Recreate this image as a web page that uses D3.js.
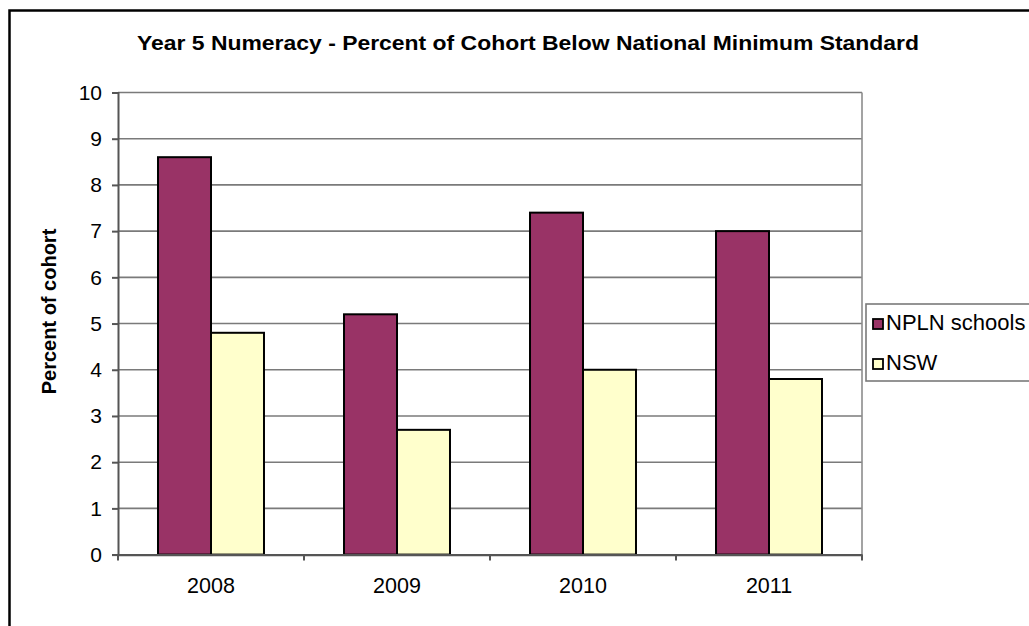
<!DOCTYPE html>
<html>
<head>
<meta charset="utf-8">
<script src="https://cdn.jsdelivr.net/npm/d3@7"></script>
<style>
  html, body { margin: 0; padding: 0; background: #ffffff; }
  svg { display: block; font-family: "Liberation Sans", Arial, sans-serif; }
</style>
</head>
<body>
<svg id="chart" width="1029" height="626"></svg>
<script>
const categories = ["2008", "2009", "2010", "2011"];
const seriesNames = ["NPLN schools", "NSW"];
const nplnValues = [8.6, 5.2, 7.4, 7.0];
const nswValues = [4.8, 2.7, 4.0, 3.8];
const yTicks = [0, 1, 2, 3, 4, 5, 6, 7, 8, 9, 10];
const titleText = "Year 5 Numeracy - Percent of Cohort Below National Minimum Standard";
const yAxisTitle = "Percent of cohort";
const colors = ["#993366", "#FFFFCC"];

const seriesValues = [nplnValues, nswValues];
const svg = d3.select("#chart");

// outer chart frame (extends beyond the window on right and bottom)
svg.append("rect")
  .attr("x", 9.5).attr("y", 10.5)
  .attr("width", 1100).attr("height", 700)
  .attr("fill", "#ffffff")
  .attr("stroke", "#000000")
  .attr("stroke-width", 2.5);

const plot = { left: 118, right: 862, top: 92.5, bottom: 554.6 };

const x0 = d3.scaleBand().domain(categories).range([plot.left, plot.right]).padding(0);
const x1 = d3.scaleBand().domain(seriesNames).range([0, x0.bandwidth()])
  .paddingInner(0).paddingOuter(0.755);
const y = d3.scaleLinear().domain([0, 10]).range([plot.bottom, plot.top]);

// gridlines
svg.append("g").selectAll("line").data(yTicks.filter(d => d > 0)).join("line")
  .attr("x1", plot.left).attr("x2", plot.right)
  .attr("y1", d => y(d)).attr("y2", d => y(d))
  .attr("stroke", "#7a7a7a").attr("stroke-width", 1.6);

// right border of plot area
svg.append("line")
  .attr("x1", plot.right).attr("x2", plot.right)
  .attr("y1", plot.top).attr("y2", plot.bottom)
  .attr("stroke", "#8c8c8c").attr("stroke-width", 1.6);

// bars
const groups = svg.append("g").selectAll("g").data(categories).join("g")
  .attr("transform", d => `translate(${x0(d)},0)`);
groups.selectAll("rect")
  .data((c, i) => seriesNames.map((s, j) => ({ s, v: seriesValues[j][i], j })))
  .join("rect")
  .attr("x", d => x1(d.s))
  .attr("width", x1.bandwidth())
  .attr("y", d => y(d.v))
  .attr("height", d => y(0) - y(d.v))
  .attr("fill", d => colors[d.j])
  .attr("stroke", "#000000")
  .attr("stroke-width", 2);

// y axis
const yAxis = svg.append("g")
  .attr("transform", `translate(${plot.left},0)`)
  .call(d3.axisLeft(y).tickValues(yTicks).tickSize(6).tickPadding(10).tickFormat(d3.format("d")));
yAxis.select(".domain").attr("stroke", "#555555").attr("stroke-width", 2);
yAxis.selectAll(".tick line").attr("stroke", "#555555").attr("stroke-width", 2);
yAxis.selectAll(".tick text")
  .attr("font-size", 21).attr("fill", "#000000")
  .attr("font-family", "'Liberation Sans', Arial, sans-serif");

// x axis
const xAxis = svg.append("g")
  .attr("transform", `translate(0,${plot.bottom})`)
  .call(d3.axisBottom(x0).tickSize(0).tickPadding(23));
xAxis.select(".domain").attr("stroke", "#555555").attr("stroke-width", 2.2);
xAxis.selectAll(".tick text")
  .attr("font-size", 21.5).attr("fill", "#000000")
  .attr("font-family", "'Liberation Sans', Arial, sans-serif");
// category separators tick marks
const sepPositions = categories.map(c => x0(c)).concat([x0(categories[categories.length - 1]) + x0.bandwidth()]);
svg.append("g").selectAll("line").data(sepPositions).join("line")
  .attr("x1", d => d).attr("x2", d => d)
  .attr("y1", plot.bottom).attr("y2", plot.bottom + 6)
  .attr("stroke", "#555555").attr("stroke-width", 2);

// title
svg.append("text")
  .attr("x", 137).attr("y", 50)
  .attr("font-size", 20.5).attr("font-weight", "bold")
  .attr("textLength", 782).attr("lengthAdjust", "spacingAndGlyphs")
  .attr("fill", "#000000")
  .text(titleText);

// y axis title
svg.append("text")
  .attr("transform", `translate(56,${(228 + 395) / 2}) rotate(-90)`)
  .attr("text-anchor", "middle")
  .attr("font-size", 20).attr("font-weight", "bold")
  .attr("fill", "#000000")
  .text(yAxisTitle);

// legend
const legend = svg.append("g");
legend.append("rect")
  .attr("x", 866).attr("y", 304)
  .attr("width", 200).attr("height", 77)
  .attr("fill", "#ffffff")
  .attr("stroke", "#7a7a7a").attr("stroke-width", 1.6);
const items = legend.selectAll("g.item").data(seriesNames).join("g")
  .attr("class", "item")
  .attr("transform", (d, i) => `translate(873,${319 + i * 40})`);
items.append("rect")
  .attr("width", 10).attr("height", 10)
  .attr("fill", (d, i) => colors[i])
  .attr("stroke", "#000000").attr("stroke-width", 1.8);
items.append("text")
  .attr("x", 13).attr("y", 11)
  .attr("font-size", 22).attr("fill", "#000000")
  .text(d => d);
</script>
</body>
</html>
